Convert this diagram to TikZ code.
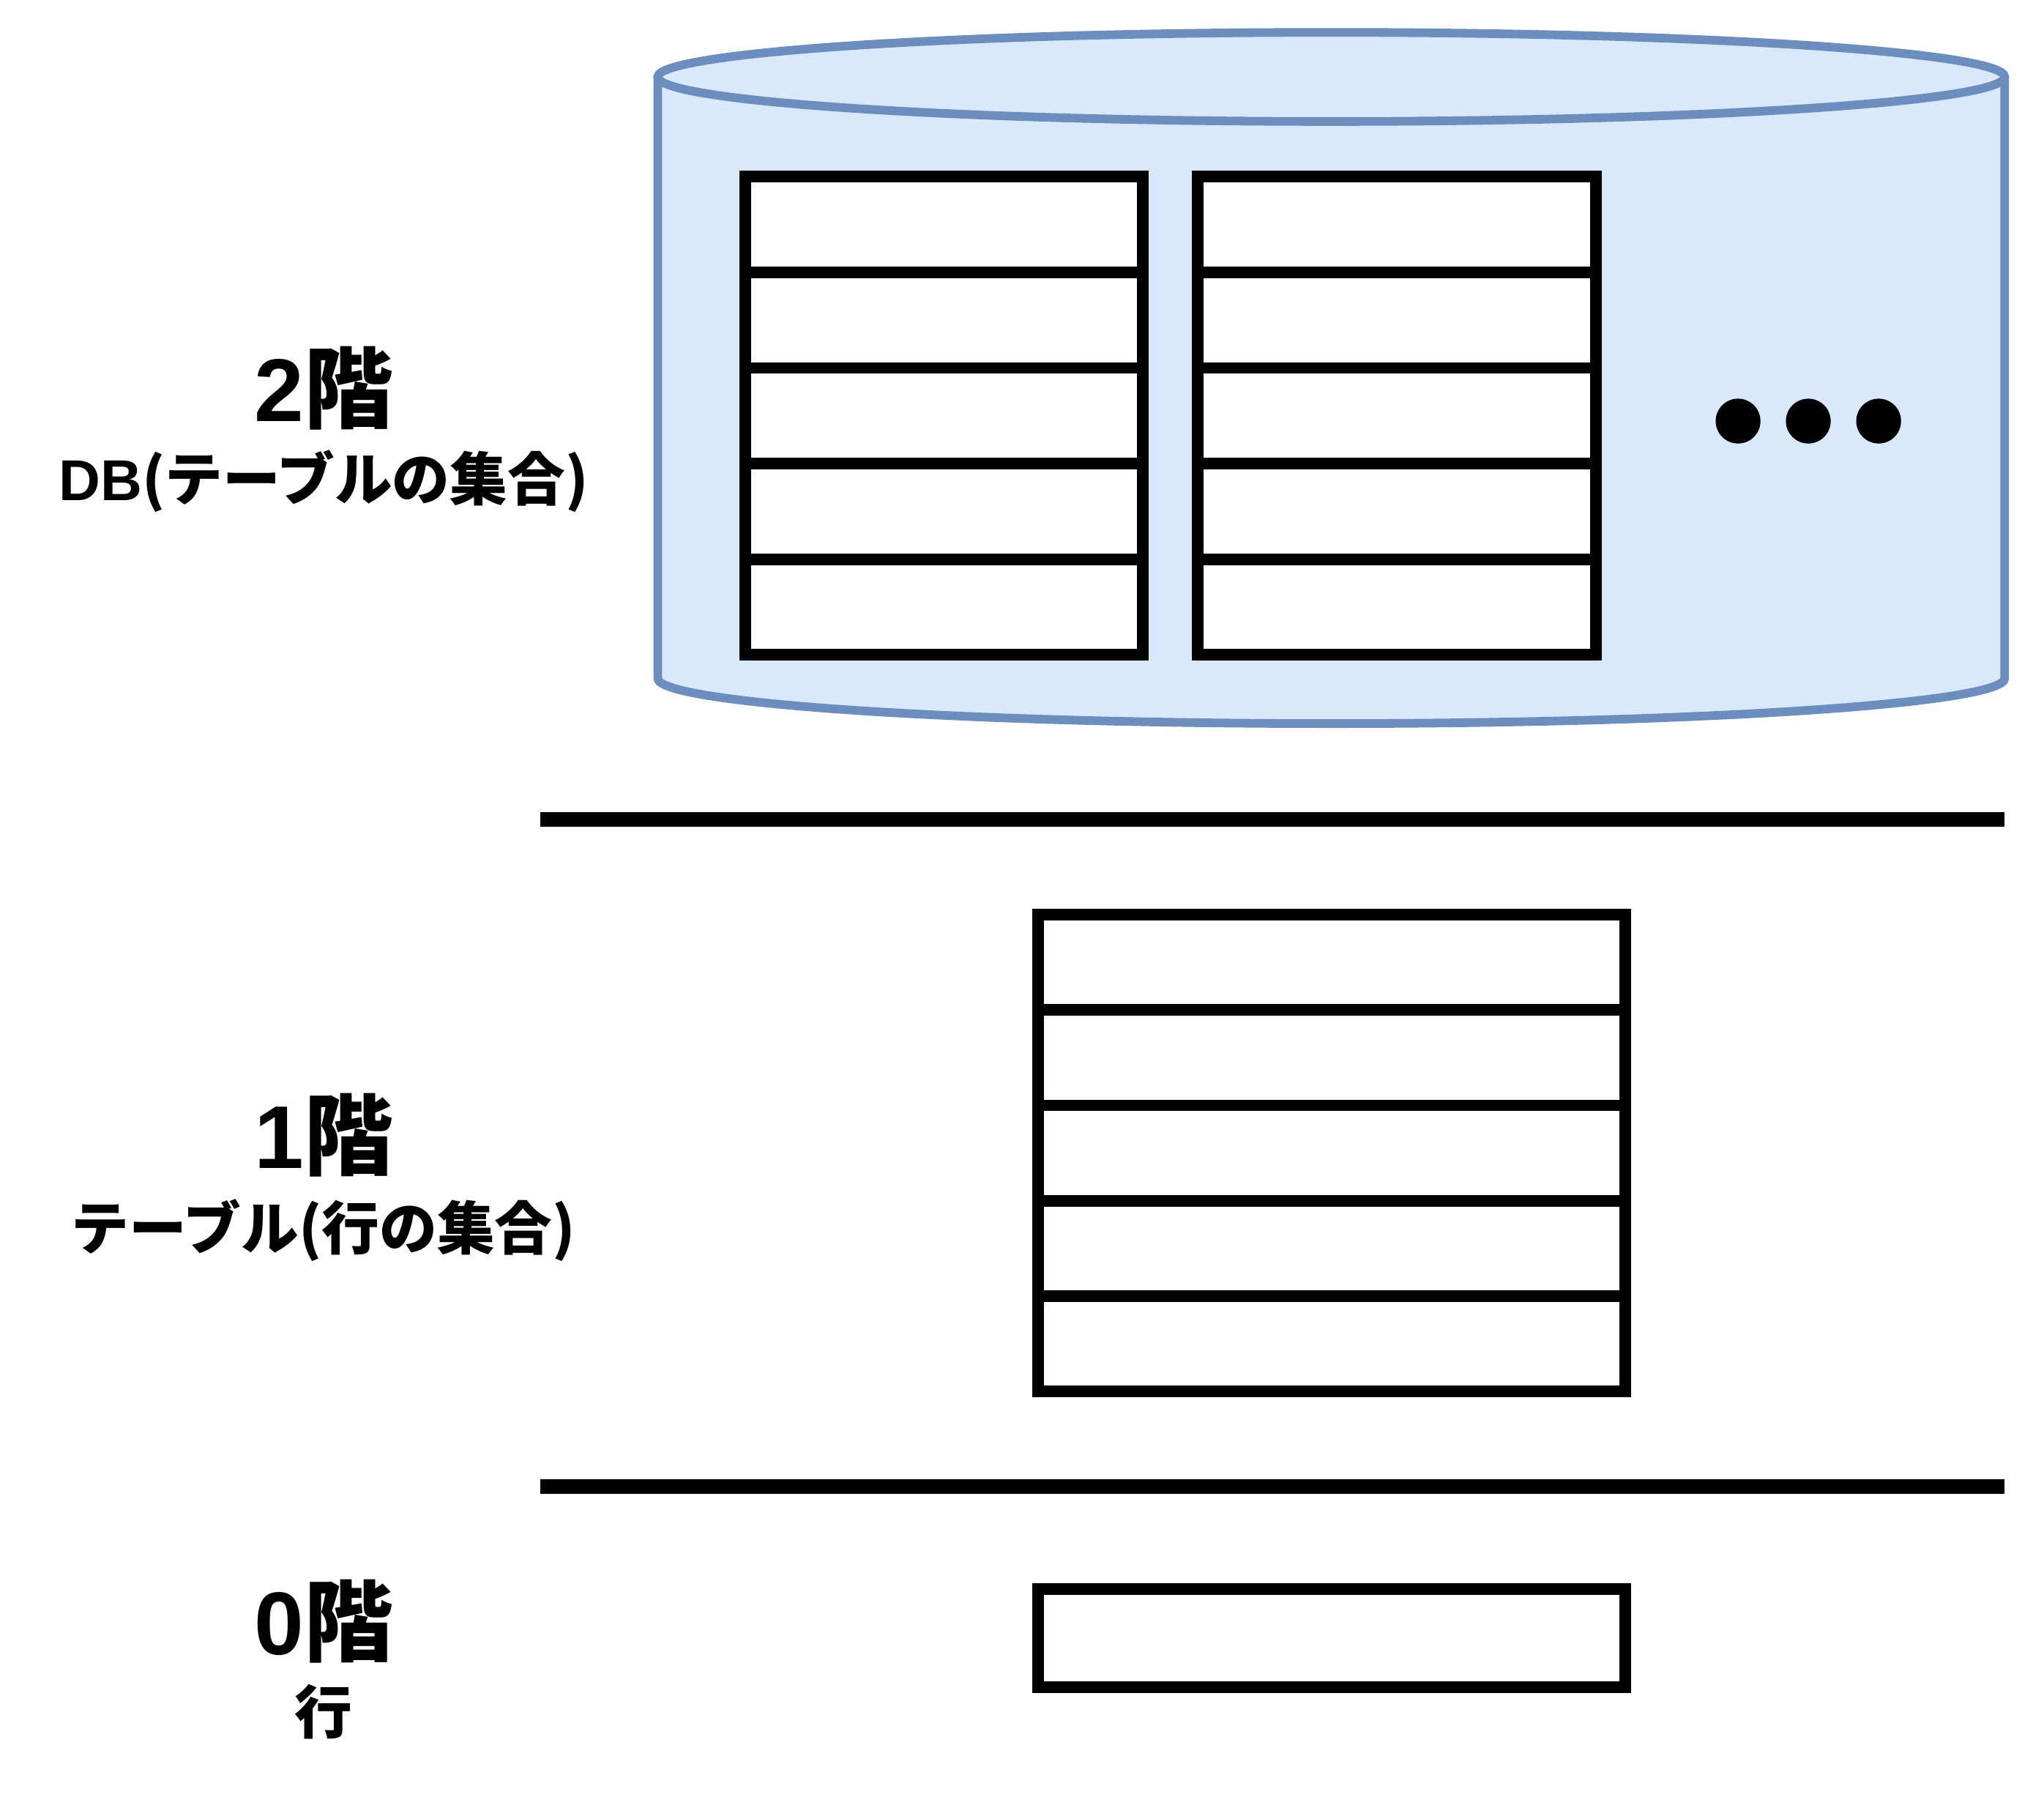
\documentclass[tikz,border=0pt]{standalone}
\usepackage{fontspec}
\setmainfont{Noto Sans CJK JP}
\newfontfamily\lat{Liberation Sans}
\newcommand{\latb}[1]{{\lat\bfseries #1}}
\begin{document}
\begin{tikzpicture}[x=0.5pt,y=-0.5pt,
  cylfill/.style={fill={rgb,255:red,218;green,232;blue,252}},
  cylline/.style={draw={rgb,255:red,108;green,142;blue,191},line width=3.3pt},
  tbl/.style={draw=black,line width=4.4pt,fill=white},
  rowline/.style={draw=black,line width=4.4pt},
  sep/.style={draw=black,line width=5.6pt},
  floor/.style={font=\bfseries\fontsize{34}{40}\selectfont,inner sep=0pt},
  sub/.style={font=\bfseries\fontsize{22}{26}\selectfont,inner sep=0pt},
  dot/.style={fill=black,draw=none}]
\useasboundingbox (0,0) rectangle (1560,1379);
% cylinder
\path[cylfill] (502,58.7) -- (502,517.6) arc[start angle=180,end angle=0,x radius=514,y radius=34.5] -- (1530,58.7) -- cycle;
\draw[cylline] (502,58.7) -- (502,517.6) arc[start angle=180,end angle=0,x radius=514,y radius=34.5] -- (1530,58.7);
\draw[cylline,cylfill] (1016,58.7) ellipse[x radius=514,y radius=34];
% left table
\draw[tbl] (568.8,134.8) rectangle (872.3,499.7);
\foreach \y in {207.8,280.8,353.8,426.7} \draw[rowline] (568.8,\y) -- (872.3,\y);
% right table
\draw[tbl] (914,134.8) rectangle (1218,499.7);
\foreach \y in {207.8,280.8,353.8,426.7} \draw[rowline] (914,\y) -- (1218,\y);
% dots
\foreach \x in {1326.5,1380.1,1433.8} \fill[dot] (\x,321.3) circle[radius=17.1];
% separators
\coordinate (s1a) at (412.4,625.2); \coordinate (s1b) at (1529.9,625.2);
\coordinate (s2a) at (412.4,1134.4); \coordinate (s2b) at (1529.9,1134.4);
\draw[sep] (s1a) -- (s1b);
\draw[sep] (s2a) -- (s2b);
% middle table
\draw[tbl] (792.3,697.8) rectangle (1240.4,1061.8);
\foreach \y in {770.6,843.4,916.2,989.0} \draw[rowline] (792.3,\y) -- (1240.4,\y);
% row
\draw[tbl] (792.3,1212.5) rectangle (1240.4,1287.2);
% labels
\node[floor] (f2) at (247,296) {\latb{2}階};
\node[sub] (d2) at (247,367) {\latb{DB}(テーブルの集合)};
\node[floor] (f1) at (247,866) {\latb{1}階};
\node[sub] (d1) at (247,939) {テーブル(行の集合)};
\node[floor] (f0) at (247,1237) {\latb{0}階};
\node[sub] (d0) at (247,1306) {行};
\end{tikzpicture}
\end{document}
